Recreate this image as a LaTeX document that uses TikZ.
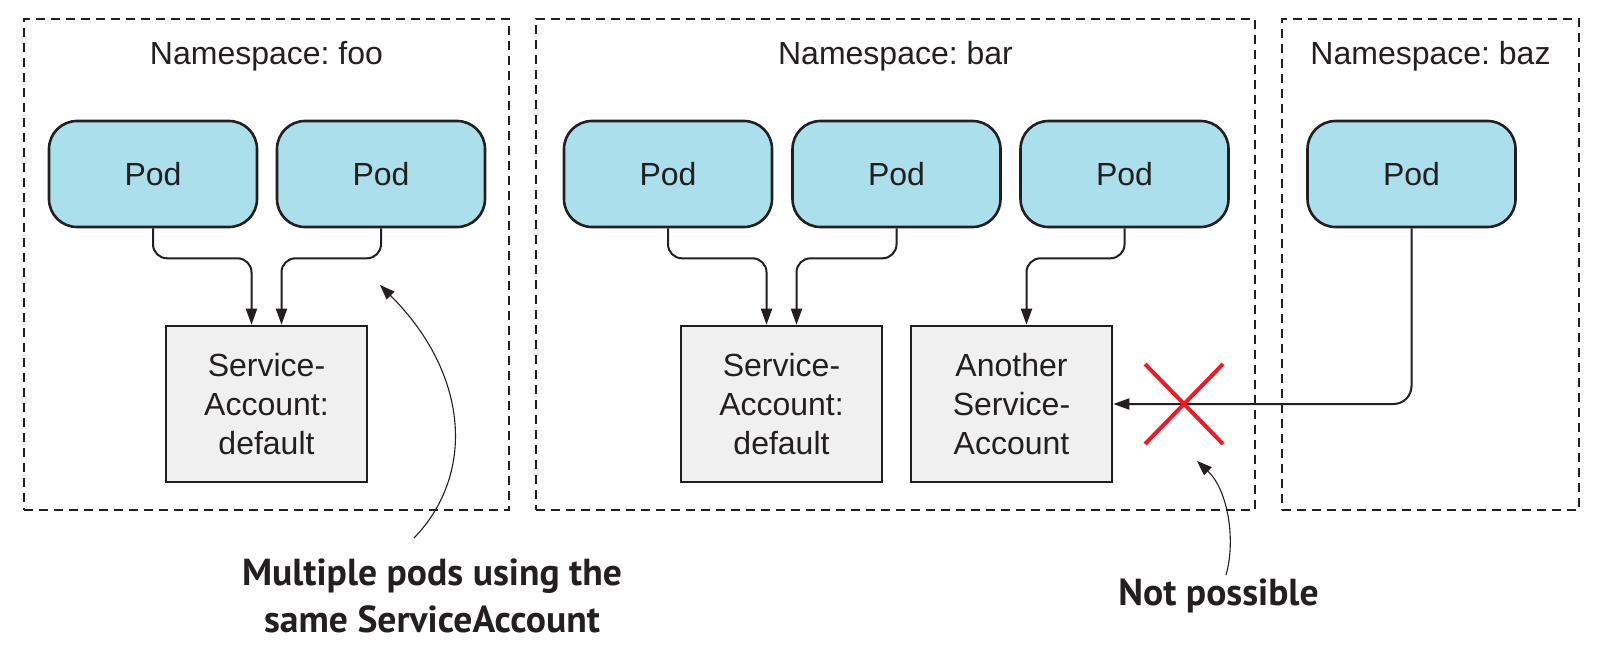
\documentclass[tikz,border=0pt]{standalone}
\usepackage{fontspec}
\setmainfont{Liberation Sans}
\newfontfamily\notefont{PT Sans}
\usetikzlibrary{arrows.meta}
\frenchspacing

\definecolor{podblue}{RGB}{172,223,236}
\definecolor{sagray}{RGB}{240,240,240}
\definecolor{ink}{RGB}{35,31,32}
\definecolor{xred}{RGB}{237,28,36}

\tikzset{
  nsbox/.style={draw=ink, line width=0.9pt, dash pattern=on 4.5pt off 3pt,
    minimum height=245.5pt, inner sep=0pt},
  nstitle/.style={anchor=base, font=\fontsize{16}{19.5}\selectfont, text=ink, inner sep=0pt},
  pod/.style={draw=ink, line width=1.3pt, fill=podblue, rounded corners=14pt,
    minimum width=104pt, minimum height=53pt, inner sep=0pt,
    font=\fontsize{16}{19.5}\selectfont, text=ink},
  sabox/.style={draw=ink, line width=1.3pt, fill=sagray,
    minimum width=100.5pt, minimum height=78pt, inner sep=0pt, align=center,
    font=\fontsize{16}{19.5}\selectfont, text=ink},
  conn/.style={draw=ink, line width=1pt, rounded corners=7pt,
    -{Triangle[length=8pt,width=5.5pt]}},
  callout/.style={draw=ink, line width=0.55pt, -{Triangle[length=7.5pt,width=5.5pt]}},
  note/.style={font=\notefont\bfseries\fontsize{18.8}{23.5}\selectfont, text=ink,
    align=center, inner sep=0pt},
  cross/.style={draw=xred, line width=2pt},
}

\begin{document}
\begin{tikzpicture}[x=0.5pt, y=-0.5pt]
  \useasboundingbox (0,0) rectangle (1604,658);

  % namespace frames
  \node[nsbox, minimum width=242.5pt] (nsfoo) at (266.5,264.5) {};
  \node[nsbox, minimum width=359.5pt] (nsbar) at (895.5,264.5) {};
  \node[nsbox, minimum width=148.5pt] (nsbaz) at (1430.5,264.5) {};
  \node[nstitle] (tfoo) at (266.5,65) {Namespace: foo};
  \node[nstitle] (tbar) at (895.5,65) {Namespace: bar};
  \node[nstitle] (tbaz) at (1430.5,65) {Namespace: baz};

  % pods
  \node[pod] (pf1) at (153,174) {Pod};
  \node[pod] (pf2) at (381,174) {Pod};
  \node[pod] (pb1) at (668,174) {Pod};
  \node[pod] (pb2) at (896.5,174) {Pod};
  \node[pod] (pb3) at (1124.5,174) {Pod};
  \node[pod] (pz1) at (1411.5,174) {Pod};

  % service accounts
  \node[sabox] (safoo) at (266.5,404) {Service-\\Account:\\default};
  \node[sabox] (sabar) at (781.5,404) {Service-\\Account:\\default};
  \node[sabox] (saother) at (1011.5,404) {Another\\Service-\\Account};

  % pod -> service account links
  \draw[conn] (pf1.south) -- ++(0,30) -| ([xshift=-7.5pt]safoo.north);
  \draw[conn] (pf2.south) -- ++(0,30) -| ([xshift=7.5pt]safoo.north);
  \draw[conn] (pb1.south) -- ++(0,30) -| ([xshift=-7.5pt]sabar.north);
  \draw[conn] (pb2.south) -- ++(0,30) -| ([xshift=7.5pt]sabar.north);
  \draw[conn] (pb3.south) -- ++(0,30) -| ([xshift=7.5pt]saother.north);
  \draw[conn, rounded corners=9pt] (pz1.south) |- (saother.east);

  % forbidden cross-namespace link
  \coordinate (xmark) at (1184,404);
  \draw[cross] (xmark) ++(-39,-40) -- ++(78,80);
  \draw[cross] (xmark) ++(39,-40) -- ++(-78,80);

  % annotations
  \node[note] (nshared) at (432,596) {Multiple pods using the\\same ServiceAccount};
  \node[note] (nnot) at (1218.5,596) {Not possible};
  \coordinate (cshared) at (380,285);
  \coordinate (cnot) at (1197,461);
  \draw[callout] (414,538) .. controls (475,475) and (470,375) .. (cshared);
  \draw[callout] (1226,575) .. controls (1236,540) and (1228,490) .. (cnot);
\end{tikzpicture}
\end{document}
